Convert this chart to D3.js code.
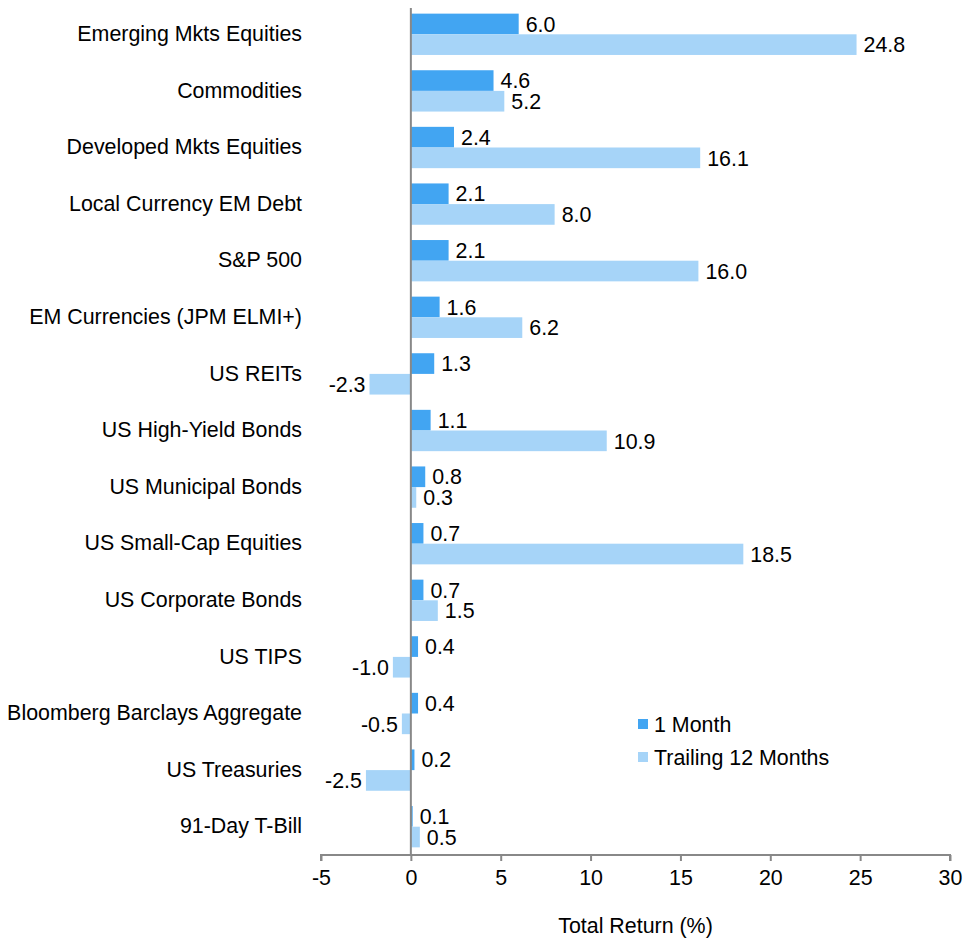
<!DOCTYPE html>
<html>
<head>
<meta charset="utf-8">
<script src="https://cdn.jsdelivr.net/npm/d3@7"></script>
<style>
  body { margin: 0; background: #fff; }
  svg { font-family: 'Liberation Sans', Arial, sans-serif; }
</style>
</head>
<body>
<svg id="chart"></svg>
<script>
const categories = [
  'Emerging Mkts Equities', 'Commodities', 'Developed Mkts Equities',
  'Local Currency EM Debt', 'S&P 500', 'EM Currencies (JPM ELMI+)',
  'US REITs', 'US High-Yield Bonds', 'US Municipal Bonds',
  'US Small-Cap Equities', 'US Corporate Bonds', 'US TIPS',
  'Bloomberg Barclays Aggregate', 'US Treasuries', '91-Day T-Bill'
]
const oneMonth = [6.0, 4.6, 2.4, 2.1, 2.1, 1.6, 1.3, 1.1, 0.8, 0.7, 0.7, 0.4, 0.4, 0.2, 0.1]
const trailing12 = [24.8, 5.2, 16.1, 8.0, 16.0, 6.2, -2.3, 10.9, 0.3, 18.5, 1.5, -1.0, -0.5, -2.5, 0.5]
const seriesNames = ['1 Month', 'Trailing 12 Months']
const xTicks = [-5, 0, 5, 10, 15, 20, 25, 30]

const colors = ['#42A5F2', '#A6D4F8']
const fontSize = '21.4px'

const width = 963
const height = 941
const margin = { top: 6, bottom: 86, left: 321, right: 13 }

const svg = d3.select('#chart').attr('width', width).attr('height', height)

const xScale = d3.scaleLinear().domain([-5, 30]).range([margin.left, width - margin.right])
const yScale = d3
  .scaleBand()
  .domain(categories)
  .range([margin.top, height - margin.bottom])
  .paddingInner(0.27)
  .paddingOuter(0.135)

const barH = yScale.bandwidth() / 2

const rows = categories.map((c, i) => ({ cat: c, values: [oneMonth[i], trailing12[i]] }))

// bars
const groups = svg.selectAll('g.row').data(rows).enter().append('g').attr('class', 'row')

seriesNames.forEach((s, k) => {
  groups
    .append('rect')
    .attr('x', (d) => xScale(Math.min(0, d.values[k])))
    .attr('y', (d) => yScale(d.cat) + k * barH)
    .attr('width', (d) => Math.abs(xScale(d.values[k]) - xScale(0)))
    .attr('height', barH)
    .attr('fill', colors[k])

  groups
    .append('text')
    .attr('x', (d) => (d.values[k] >= 0 ? xScale(d.values[k]) + 7 : xScale(d.values[k]) - 4))
    .attr('y', (d) => yScale(d.cat) + k * barH + barH / 2)
    .attr('dy', '0.36em')
    .attr('text-anchor', (d) => (d.values[k] >= 0 ? 'start' : 'end'))
    .style('font-size', fontSize)
    .attr('fill', '#000')
    .text((d) => d.values[k].toFixed(1))
})

// category labels
svg
  .selectAll('text.cat')
  .data(categories)
  .enter()
  .append('text')
  .attr('class', 'cat')
  .attr('x', 302)
  .attr('y', (d) => yScale(d) + yScale.bandwidth() / 2 - 1)
  .attr('dy', '0.36em')
  .attr('text-anchor', 'end')
  .style('font-size', fontSize)
  .text((d) => d)

// zero line
svg
  .append('line')
  .attr('x1', xScale(0))
  .attr('x2', xScale(0))
  .attr('y1', 8)
  .attr('y2', height - margin.bottom)
  .attr('stroke', '#888')
  .attr('stroke-width', 2)

// x axis
const axisX = d3.axisBottom(xScale).tickValues(xTicks).tickSize(6).tickPadding(9).tickFormat((d) => String(d))
const gx = svg
  .append('g')
  .attr('transform', `translate(0,${height - margin.bottom})`)
  .call(axisX)
gx.select('.domain').attr('stroke', '#888').attr('stroke-width', 2).attr('d', `M${xScale(-5)},6V0H${xScale(30)}V6`)
gx.selectAll('.tick line').attr('stroke', '#888').attr('stroke-width', 2)
gx.selectAll('.tick text').style('font-size', fontSize).style('font-family', "'Liberation Sans', Arial, sans-serif").attr('fill', '#000')

svg
  .append('text')
  .attr('x', xScale(12.5))
  .attr('y', 925)
  .attr('dy', '0.36em')
  .attr('text-anchor', 'middle')
  .style('font-size', fontSize)
  .text('Total Return (%)')

// legend
const legend = svg.append('g').attr('transform', 'translate(638,0)')
seriesNames.forEach((s, k) => {
  const cy = 724 + k * 33
  legend.append('rect').attr('x', 0).attr('y', cy - 5).attr('width', 10).attr('height', 10).attr('fill', colors[k])
  legend
    .append('text')
    .attr('x', 16)
    .attr('y', cy)
    .attr('dy', '0.36em')
    .style('font-size', fontSize)
    .text(s)
})
</script>
</body>
</html>
